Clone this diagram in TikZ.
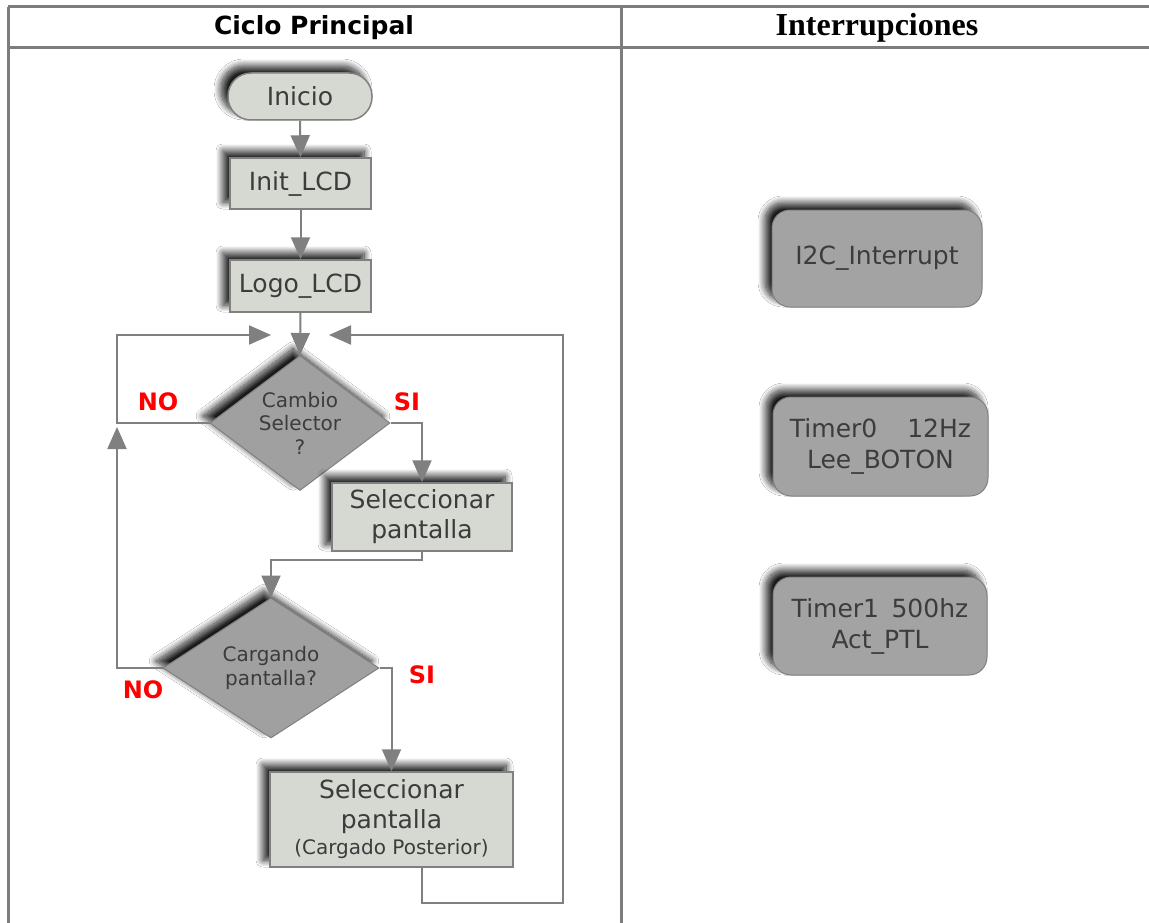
\documentclass[tikz,border=0pt]{standalone}
\usepackage{fontspec}
\newfontfamily\vf{DejaVu Sans}
\newfontfamily\hserif{Liberation Serif}
\usetikzlibrary{arrows.meta,shapes.geometric,shadows.blur}
\definecolor{boxfill}{RGB}{214,216,210}
\definecolor{dfill}{RGB}{160,160,160}
\definecolor{ifill}{RGB}{163,163,163}
\definecolor{edge}{RGB}{128,128,128}
\definecolor{txt}{RGB}{60,60,60}
\definecolor{tbl}{RGB}{125,125,125}
\definecolor{lblred}{RGB}{255,0,0}
\tikzset{
  shad/.style={blur shadow={shadow xshift=-7pt, shadow yshift=7pt, shadow blur radius=7pt, shadow blur steps=14, shadow opacity=90}},
  procbox/.style={draw=edge, line width=1.5pt, fill=boxfill, text=txt, shad, inner sep=0pt, align=center, font=\vf\fontsize{25}{30}\selectfont},
  termbox/.style={procbox, rounded corners=23pt},
  decis/.style={shape=diamond, draw=edge, line width=1pt, fill=dfill, text=txt, shad, inner sep=0pt, align=center, font=\vf\fontsize{20}{23.5}\selectfont},
  intbox/.style={draw=edge, line width=1pt, fill=ifill, text=txt, shad, rounded corners=18pt, inner sep=0pt, align=center, font=\vf\fontsize{25}{31}\selectfont},
  lbl/.style={text=lblred, font=\vf\bfseries\fontsize{24}{28}\selectfont, inner sep=0pt},
  conn/.style={draw=edge, line width=2pt},
  arr/.style={conn, -{Triangle[length=22pt,width=19pt]}},
  hdr/.style={font=#1, text=black, inner sep=0pt}
}
\begin{document}
\begin{tikzpicture}[x=1pt,y=-1pt]
\useasboundingbox (0,0) rectangle (1149,923);
\fill[white] (0,0) rectangle (1149,923);
% table
\draw[tbl, line width=3pt] (8,7) -- (1160,7);
\draw[tbl, line width=3pt] (8,48) -- (1160,48);
\draw[tbl, line width=3pt] (8,7) -- (8,930);
\draw[tbl, line width=3pt] (621,7) -- (621,930);
\node[hdr=\vf\bfseries\fontsize{25}{30}\selectfont] (h1) at (314,28) {Ciclo Principal};
\node[hdr=\hserif\bfseries\fontsize{32}{36}\selectfont] (h2) at (877,28) {Interrupciones};

% main flow
\node[termbox, minimum width=144pt, minimum height=47pt] (inicio) at (300,96.5) {Inicio};
\node[procbox, minimum width=141pt, minimum height=51pt] (init) at (300.5,183.5) {Init\_LCD};
\node[procbox, minimum width=141pt, minimum height=52pt] (logo) at (300.5,286) {Logo\_LCD};
\node[decis, minimum width=180pt, minimum height=135pt, aspect=1.333] (d1) at (300,423) {Cambio\\Selector\\?};
\node[procbox, minimum width=180pt, minimum height=68pt] (sel1) at (422,517) {Seleccionar\\pantalla};
\node[decis, minimum width=216pt, minimum height=140pt, aspect=1.54] (d2) at (271,668) {Cargando\\pantalla?};
\node[procbox, minimum width=243pt, minimum height=95pt] (sel2) at (391.5,819.5) {Seleccionar\\pantalla\\[-4pt]{\fontsize{20}{24}\selectfont(Cargado Posterior)}};

% labels
\node[lbl] (no1) at (158,402) {NO};
\node[lbl] (si1) at (407,402) {SI};
\node[lbl] (no2) at (143,690) {NO};
\node[lbl] (si2) at (422,675) {SI};

% coordinates
\coordinate (inL) at (271,335);
\coordinate (inR) at (329,335);
\coordinate (cL) at (117,335);
\coordinate (mL) at (117,427);
\coordinate (cB) at (563,903);

% connectors
\draw[arr] (inicio.south) -- (init.north);
\draw[arr] (init.south) -- (logo.north);
\draw[arr] (logo.south) -- (d1.north);
\draw[arr] (d1.west) -| (cL) -- (inL);
\draw[arr] (d2.west) -| (mL);
\draw[arr] (d1.east) -| (sel1.north);
\draw[arr] (sel1.south) -- ++(0,8) -| (d2.north);
\draw[arr] (d2.east) -| (sel2.north);
\draw[arr] ([xshift=30.5pt]sel2.south) |- (cB) |- (inR);

% interrupts
\node[intbox, minimum width=210pt, minimum height=97pt] (i2c) at (877,258.5) {I2C\_Interrupt};
\node[intbox, minimum width=215pt, minimum height=99pt] (t0) at (880.5,446.5) {Timer0\hspace{1.2em}12Hz\\Lee\_BOTON};
\node[intbox, minimum width=214pt, minimum height=98pt] (t1) at (880,626) {Timer1\hspace{0.5em}500hz\\Act\_PTL};
\end{tikzpicture}
\end{document}
